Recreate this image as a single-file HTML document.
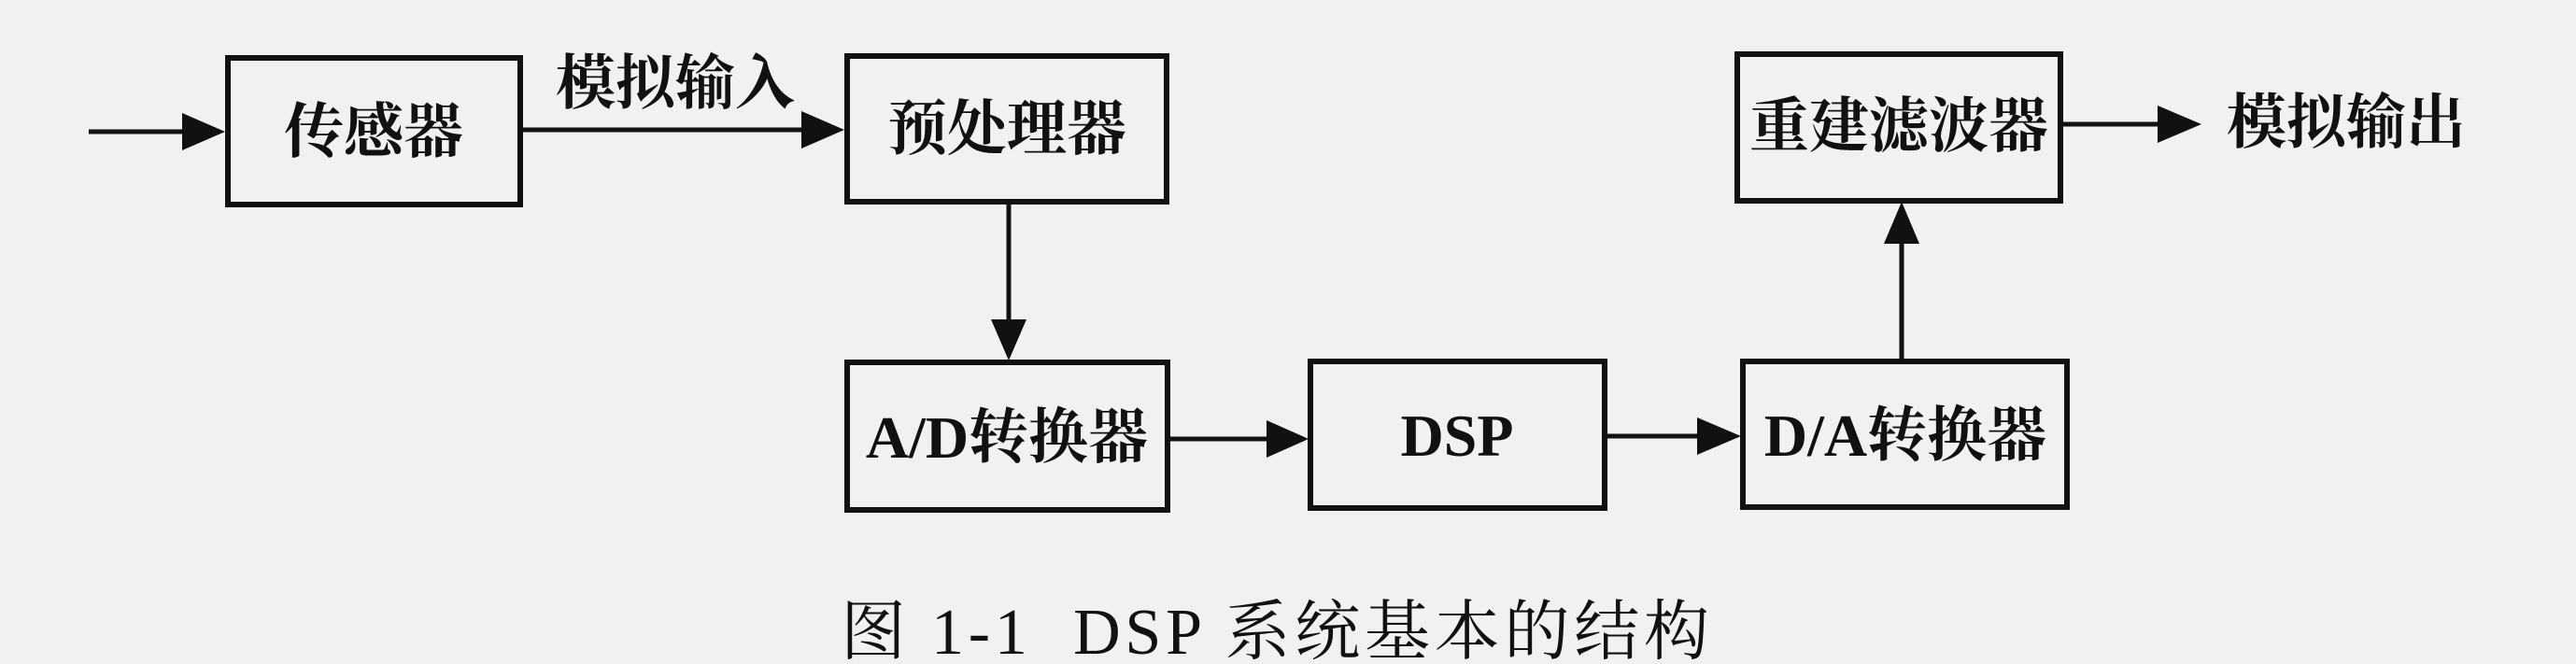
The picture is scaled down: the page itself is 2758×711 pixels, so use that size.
<!DOCTYPE html>
<html><head><meta charset="utf-8"><style>
html,body{margin:0;padding:0;background:#f1f1f1;}
svg{display:block}
text{font-family:"Liberation Serif","Noto Serif CJK SC",serif;fill:#111;}
</style></head><body>
<svg width="2758" height="711" viewBox="0 0 2758 711" xmlns="http://www.w3.org/2000/svg">
<rect width="2758" height="711" fill="#f1f1f1"/>
<g stroke="#111" stroke-width="6" fill="none">
<rect x="244" y="62" width="313" height="157"/>
<rect x="907" y="60" width="342" height="156"/>
<rect x="907" y="388" width="343" height="158"/>
<rect x="1403" y="387" width="315" height="157"/>
<rect x="1866" y="387" width="347" height="156"/>
<rect x="1860" y="58" width="346" height="157"/>
</g>
<g fill="#111" stroke="#111" stroke-width="5">
<line x1="95" y1="141" x2="210" y2="141"/><path d="M195,121 L241,141 L195,161 Z" stroke="none"/>
<line x1="557" y1="139" x2="860" y2="139"/><path d="M858,119 L904,139 L858,159 Z" stroke="none"/>
<line x1="1080" y1="216" x2="1080" y2="350"/><path d="M1061,342 L1080,386 L1099,342 Z" stroke="none"/>
<line x1="1250" y1="470" x2="1370" y2="470"/><path d="M1356,450 L1401,470 L1356,490 Z" stroke="none"/>
<line x1="1718" y1="467" x2="1830" y2="467"/><path d="M1817,447 L1864,467 L1817,487 Z" stroke="none"/>
<line x1="2036" y1="386" x2="2036" y2="250"/><path d="M2017,261 L2036,216 L2055,261 Z" stroke="none"/>
<line x1="2206" y1="133" x2="2320" y2="133"/><path d="M2310,113 L2357,133 L2310,153 Z" stroke="none"/>
</g>
<g font-size="64" font-weight="bold" text-anchor="middle">
<text x="400" y="163">传感器</text>
<text x="723" y="111">模拟输入</text>
<text x="1078" y="160">预处理器</text>
<text x="1078" y="490">A/D转换器</text>
<text x="1560" y="488">DSP</text>
<text x="2040" y="488">D/A转换器</text>
<text x="2033" y="157">重建滤波器</text>
<text x="2512" y="153">模拟输出</text>
</g>
<text x="900" y="700" font-size="70" textLength="930" lengthAdjust="spacing" xml:space="preserve">图 1-1  DSP 系统基本的结构</text>
</svg>
</body></html>
